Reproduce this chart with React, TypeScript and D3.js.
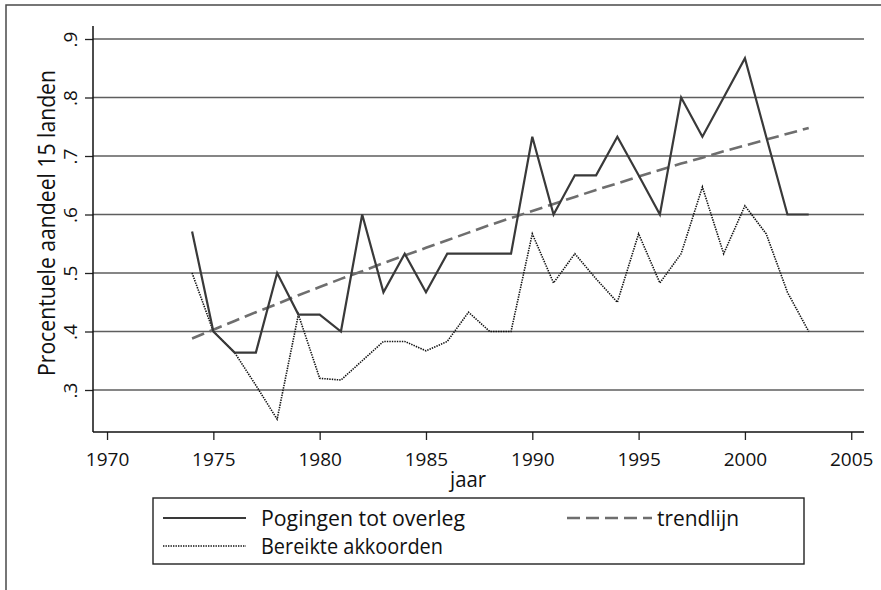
import * as d3 from "d3";
import { useEffect, useRef } from "react";

const years = [
  1974, 1975, 1976, 1977, 1978, 1979, 1980, 1981, 1982, 1983,
  1984, 1985, 1986, 1987, 1988, 1989, 1990, 1991, 1992, 1993,
  1994, 1995, 1996, 1997, 1998, 1999, 2000, 2001, 2002, 2003,
];

// Pogingen tot overleg
const pogingen = [
  0.571, 0.4, 0.364, 0.364, 0.5, 0.429, 0.429, 0.4, 0.6, 0.467,
  0.533, 0.467, 0.533, 0.533, 0.533, 0.533, 0.733, 0.6, 0.667, 0.667,
  0.733, 0.667, 0.6, 0.8, 0.733, 0.8, 0.867, 0.733, 0.6, 0.6,
];

// Bereikte akkoorden
const akkoorden = [
  0.5, 0.4, 0.364, 0.308, 0.25, 0.429, 0.32, 0.317, 0.35, 0.383,
  0.383, 0.367, 0.383, 0.433, 0.4, 0.4, 0.567, 0.483, 0.533, 0.49,
  0.45, 0.567, 0.483, 0.533, 0.647, 0.533, 0.615, 0.567, 0.467, 0.4,
];

// trendlijn
const trend = [
  0.388, 0.403, 0.418, 0.433, 0.447, 0.462, 0.476, 0.49, 0.503, 0.517,
  0.53, 0.543, 0.556, 0.569, 0.582, 0.594, 0.606, 0.618, 0.63, 0.642,
  0.653, 0.665, 0.676, 0.687, 0.697, 0.708, 0.718, 0.728, 0.738, 0.748,
];

const xTicks = [1970, 1975, 1980, 1985, 1990, 1995, 2000, 2005];
const yTicks = [0.3, 0.4, 0.5, 0.6, 0.7, 0.8, 0.9];

const FONT = "'Open Sans', 'DejaVu Sans', sans-serif";

export default function App() {
  const ref = useRef<SVGSVGElement | null>(null);

  useEffect(() => {
    const svg = d3.select(ref.current);
    svg.selectAll("*").remove();

    const x = d3.scaleLinear().domain([1969.34, 2005.6]).range([93, 864]);
    const y = d3.scaleLinear().domain([0.3, 0.9]).range([390, 39]);
    const yBottom = 432;
    const yTop = 26;

    svg
      .append("rect")
      .attr("x", 6)
      .attr("y", 5)
      .attr("width", 900)
      .attr("height", 700)
      .attr("fill", "white")
      .attr("stroke", "#4a4a4a")
      .attr("stroke-width", 1.5);

    // gridlines
    svg
      .append("g")
      .selectAll("line")
      .data(yTicks)
      .enter()
      .append("line")
      .attr("x1", x.range()[0])
      .attr("x2", x.range()[1])
      .attr("y1", (d) => y(d))
      .attr("y2", (d) => y(d))
      .attr("stroke", "#5e5e5e")
      .attr("stroke-width", 1.6);

    // y axis
    const yAxis = d3
      .axisLeft(y)
      .tickValues(yTicks)
      .tickSize(8)
      .tickFormat((d) => d3.format(".1f")(d as number).replace(/^0/, ""));
    const gy = svg.append("g").attr("transform", "translate(93,0)").call(yAxis);
    gy.select(".domain").remove();
    gy.selectAll(".tick line").attr("stroke", "#222").attr("stroke-width", 1.3);
    gy.selectAll(".tick text")
      .attr("x", null)
      .attr("dy", null)
      .attr("transform", "translate(-16,0) rotate(-90)")
      .attr("text-anchor", "middle")
      .attr("font-family", FONT)
      .attr("font-size", 19)
      .attr("fill", "#111");
    svg
      .append("line")
      .attr("x1", 93)
      .attr("x2", 93)
      .attr("y1", yTop)
      .attr("y2", yBottom)
      .attr("stroke", "#111")
      .attr("stroke-width", 1.5);

    // x axis
    const xAxis = d3.axisBottom(x).tickValues(xTicks).tickSize(8).tickFormat(d3.format("d"));
    const gx = svg.append("g").attr("transform", `translate(0,${yBottom})`).call(xAxis);
    gx.select(".domain").remove();
    gx.selectAll(".tick line").attr("stroke", "#222").attr("stroke-width", 1.3);
    gx.selectAll(".tick text")
      .attr("y", 33.5)
      .attr("dy", null)
      .attr("font-family", FONT)
      .attr("font-size", 19)
      .attr("fill", "#111");
    svg
      .append("line")
      .attr("x1", 93)
      .attr("x2", 864)
      .attr("y1", yBottom)
      .attr("y2", yBottom)
      .attr("stroke", "#111")
      .attr("stroke-width", 1.5);

    // titles
    svg
      .append("text")
      .attr("transform", "translate(55,223) rotate(-90)")
      .attr("text-anchor", "middle")
      .attr("font-family", FONT)
      .attr("font-size", 23)
      .attr("textLength", 306)
      .attr("lengthAdjust", "spacingAndGlyphs")
      .attr("fill", "#111")
      .text("Procentuele aandeel 15 landen");

    svg
      .append("text")
      .attr("x", 468)
      .attr("y", 487)
      .attr("text-anchor", "middle")
      .attr("font-family", FONT)
      .attr("font-size", 21)
      .attr("textLength", 36)
      .attr("lengthAdjust", "spacingAndGlyphs")
      .attr("fill", "#111")
      .text("jaar");

    const line = d3
      .line<number>()
      .x((_, i) => x(years[i]))
      .y((d) => y(d));

    const plot = svg.append("g");
    plot
      .append("path")
      .attr("d", line(akkoorden))
      .attr("fill", "none")
      .attr("stroke", "#111")
      .attr("stroke-width", 1.6)
      .attr("stroke-dasharray", "1.4 1.1");
    plot
      .append("path")
      .attr("d", line(trend))
      .attr("fill", "none")
      .attr("stroke", "#6e6e6e")
      .attr("stroke-width", 2.6)
      .attr("stroke-dasharray", "13 6");
    plot
      .append("path")
      .attr("d", line(pogingen))
      .attr("fill", "none")
      .attr("stroke", "#393939")
      .attr("stroke-width", 2.2)
      .attr("stroke-linejoin", "miter");

    // legend
    const lg = svg.append("g");
    lg.append("rect")
      .attr("x", 153)
      .attr("y", 498)
      .attr("width", 651)
      .attr("height", 66)
      .attr("fill", "white")
      .attr("stroke", "#222")
      .attr("stroke-width", 1.4);

    const items = [
      { label: "Pogingen tot overleg", x1: 163, x2: 246, tx: 261, ty: 518, w: 204, stroke: "#393939", sw: 2.2, dash: null },
      { label: "Bereikte akkoorden", x1: 163, x2: 246, tx: 261, ty: 546, w: 182, stroke: "#111", sw: 1.6, dash: "1.4 1.1" },
      { label: "trendlijn", x1: 567, x2: 652, tx: 657, ty: 518, w: 82, stroke: "#6e6e6e", sw: 2.6, dash: "13 6" },
    ];
    items.forEach((it) => {
      lg.append("line")
        .attr("x1", it.x1)
        .attr("x2", it.x2)
        .attr("y1", it.ty)
        .attr("y2", it.ty)
        .attr("stroke", it.stroke)
        .attr("stroke-width", it.sw)
        .attr("stroke-dasharray", it.dash);
      lg.append("text")
        .attr("x", it.tx)
        .attr("y", it.ty + 8)
        .attr("font-family", FONT)
        .attr("font-size", 22.5)
        .attr("textLength", it.w)
        .attr("lengthAdjust", "spacingAndGlyphs")
        .attr("fill", "#111")
        .text(it.label);
    });
  }, []);

  return (
    <svg
      ref={ref}
      width={881}
      height={590}
      style={{ position: "absolute", left: 0, top: 0, background: "white" }}
    />
  );
}
